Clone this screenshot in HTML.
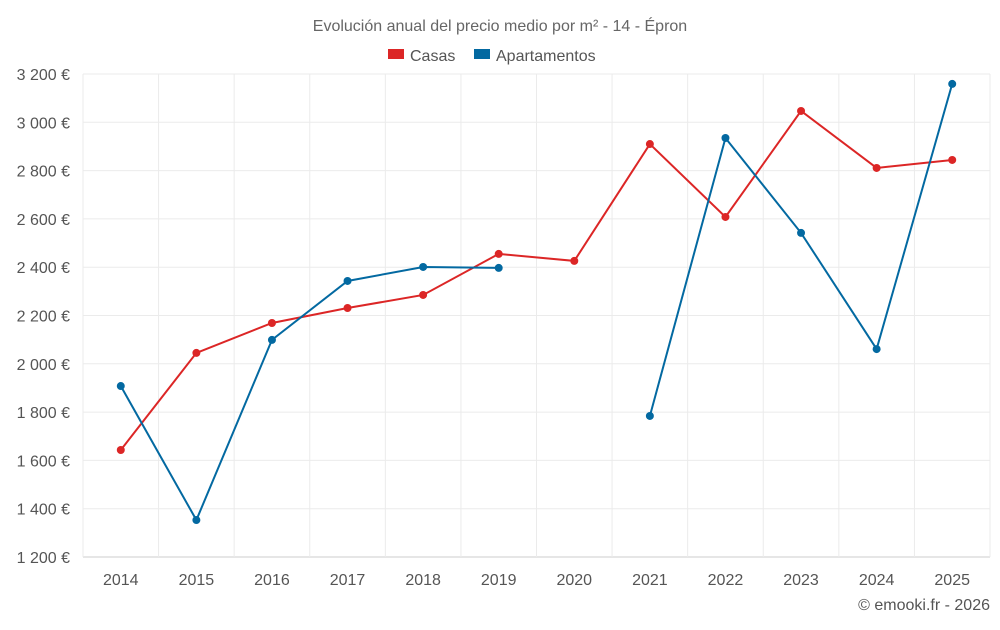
<!DOCTYPE html>
<html><head><meta charset="utf-8"><style>
body{margin:0;background:#fff;font-family:"Liberation Sans",sans-serif;}
svg text{font-family:"Liberation Sans",sans-serif;}
</style></head><body>
<svg id="chart" width="1000" height="625" xmlns="http://www.w3.org/2000/svg">
<text x="500" y="31" text-anchor="middle" font-size="16" fill="#666">Evolución anual del precio medio por m² - 14 - Épron</text>
<g>
<g><rect x="388" y="49" width="16" height="10" fill="#dc2626"/><text x="410" y="61" font-size="16" fill="#555">Casas</text></g>
<g><rect x="474" y="49" width="16" height="10" fill="#0369a1"/><text x="496" y="61" font-size="16" fill="#555">Apartamentos</text></g>
</g>
<g id="grid"></g><g id="axes"></g><g id="series"></g>
<text x="990" y="610" text-anchor="end" font-size="16" fill="#555">© emooki.fr - 2026</text>
</svg>
<script>
const years=[2014,2015,2016,2017,2018,2019,2020,2021,2022,2023,2024,2025];
const casas=[1643,2045,2169,2231,2285,2455,2426,2910,2608,3047,2811,2844];
const apartamentos=[1908,1353,2099,2343,2401,2397,null,1784,2935,2542,2061,3159];
const yTicks=[1200,1400,1600,1800,2000,2200,2400,2600,2800,3000,3200];
const L=83,R=990,T=74,B=557,yMin=1200,yMax=3200;
const bw=(R-L)/years.length;
const x=i=>L+bw*(i+0.5);
const y=v=>B-(v-yMin)/(yMax-yMin)*(B-T);
const NS="http://www.w3.org/2000/svg";
function mk(tag,attrs,parent){const e=document.createElementNS(NS,tag);for(const k in attrs)e.setAttribute(k,attrs[k]);parent.appendChild(e);return e;}
const grid=document.getElementById('grid'),axes=document.getElementById('axes'),ser=document.getElementById('series');
const fmt=v=>String(v).replace(/\B(?=(\d{3})+(?!\d))/g,' ')+' €';
yTicks.forEach(v=>{
 const l=mk('line',{x1:L,x2:R,y1:y(v),y2:y(v),stroke:v===yMin?'#ccc':'#ebebeb','stroke-width':1},grid);
 
 
 const t=mk('text',{x:L-13,y:y(v)+6,'text-anchor':'end','font-size':16,fill:'#555'},axes);
 t.textContent=fmt(v);
 
 
});
for(let i=0;i<=years.length;i++){
 const l=mk('line',{x1:L+bw*i,x2:L+bw*i,y1:T,y2:B+(i===0?0:0),stroke:'#ebebeb','stroke-width':1},grid);
 
 
}
years.forEach((yr,i)=>{
 const t=mk('text',{x:x(i),y:585,'text-anchor':'middle','font-size':16,fill:'#555'},axes);
 t.textContent=yr;
 
 
});
function draw(data,color,name){
 const g=mk('g',{},ser);
 
 
 let d='',pen=false;
 data.forEach((v,i)=>{if(v==null){pen=false;return;}d+=(pen?'L':'M')+x(i)+' '+y(v)+' ';pen=true;});
 const p=mk('path',{d:d,fill:'none',stroke:color,'stroke-width':2},g);
 
 
 data.forEach((v,i)=>{if(v==null)return;
  const c=mk('circle',{cx:x(i),cy:y(v),r:4,fill:color},g);
  
  
 });
}
draw(casas,'#dc2626','casas');
draw(apartamentos,'#0369a1','apartamentos');
</script>
</body></html>
